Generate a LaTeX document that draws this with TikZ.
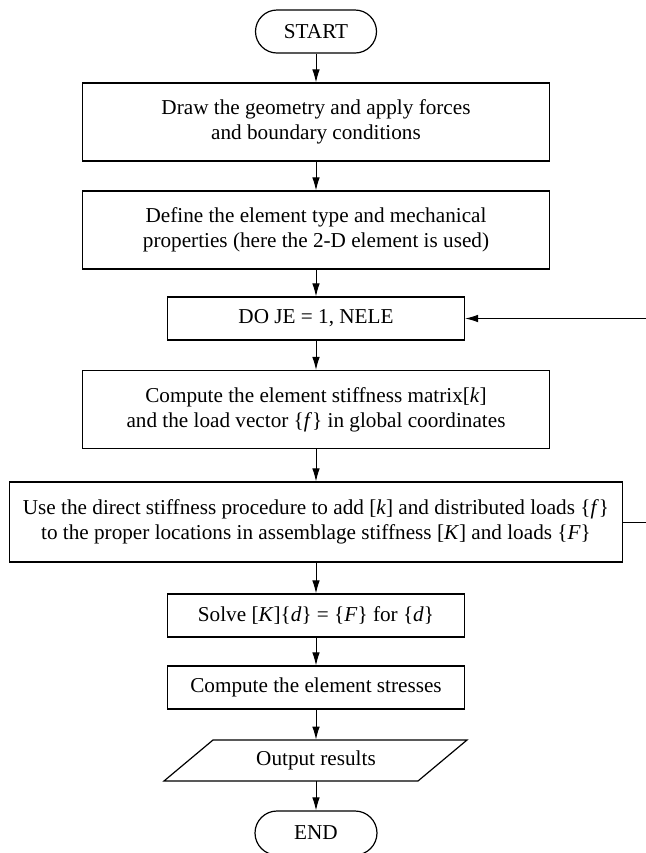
\documentclass[tikz,border=0pt]{standalone}
\usepackage{fontspec}
\setmainfont{Liberation Serif}
\usetikzlibrary{arrows.meta}
\begin{document}
\begin{tikzpicture}[x=0.5pt,y=-0.5pt,
  every node/.style={font=\fontsize{10.6}{12.5}\selectfont, inner sep=0pt, align=center},
  proc/.style={draw, line width=0.6pt, rectangle},
  wide/.style={proc, minimum width=233.5pt, minimum height=39pt},
  narrow/.style={proc, minimum width=148.5pt, minimum height=21.5pt},
  term/.style={draw, line width=0.6pt, rectangle, rounded corners=10.75pt, minimum width=60.5pt, minimum height=21.5pt},
  flow/.style={line width=0.5pt, -{Latex[length=6.5pt,width=3.8pt]}}
]
\useasboundingbox (0,0) rectangle (645,853);
\node[term] (start) at (316,31.5) {START};
\node[wide] (b1) at (316,122) {Draw the geometry and apply forces\\and boundary conditions};
\node[wide] (b2) at (316,230) {Define the element type and mechanical\\properties (here the 2-D element is used)};
\node[narrow] (b3) at (316,318.5) {DO JE = 1, NELE};
\node[wide] (b4) at (316,409.5) {Compute the element stiffness matrix[\textit{k}]\\and the load vector \{\textit{f}\} in global coordinates};
\node[proc, minimum width=306.5pt, minimum height=40pt] (b5) at (316,522) {Use the direct stiffness procedure to add [\textit{k}] and distributed loads \{\textit{f}\}\\to the proper locations in assemblage stiffness [\textit{K}] and loads \{\textit{F}\}};
\node[narrow] (b6) at (316,615.5) {Solve [\textit{K}]\{\textit{d}\} = \{\textit{F}\} for \{\textit{d}\}};
\node[narrow] (b7) at (316,687.5) {Compute the element stresses};
\node[minimum width=127pt, minimum height=20.5pt] (out) at (316,760.5) {Output results};
\draw[line width=0.6pt] (164,781) -- (213,740) -- (467,740) -- (418,781) -- cycle;
\node[term, minimum width=61pt, minimum height=22pt, rounded corners=11pt] (end) at (316,833) {END};
\coordinate (rc) at (660,522);
\draw[flow] (start) -- (b1);
\draw[flow] (b1) -- (b2);
\draw[flow] (b2) -- (b3);
\draw[flow] (b3) -- (b4);
\draw[flow] (b4) -- (b5);
\draw[flow] (b5) -- (b6);
\draw[flow] (b6) -- (b7);
\draw[flow] (b7) -- (out);
\draw[flow] (out) -- (end);
\draw[flow] (b5.east) -- (rc) |- (b3.east);
\end{tikzpicture}
\end{document}
